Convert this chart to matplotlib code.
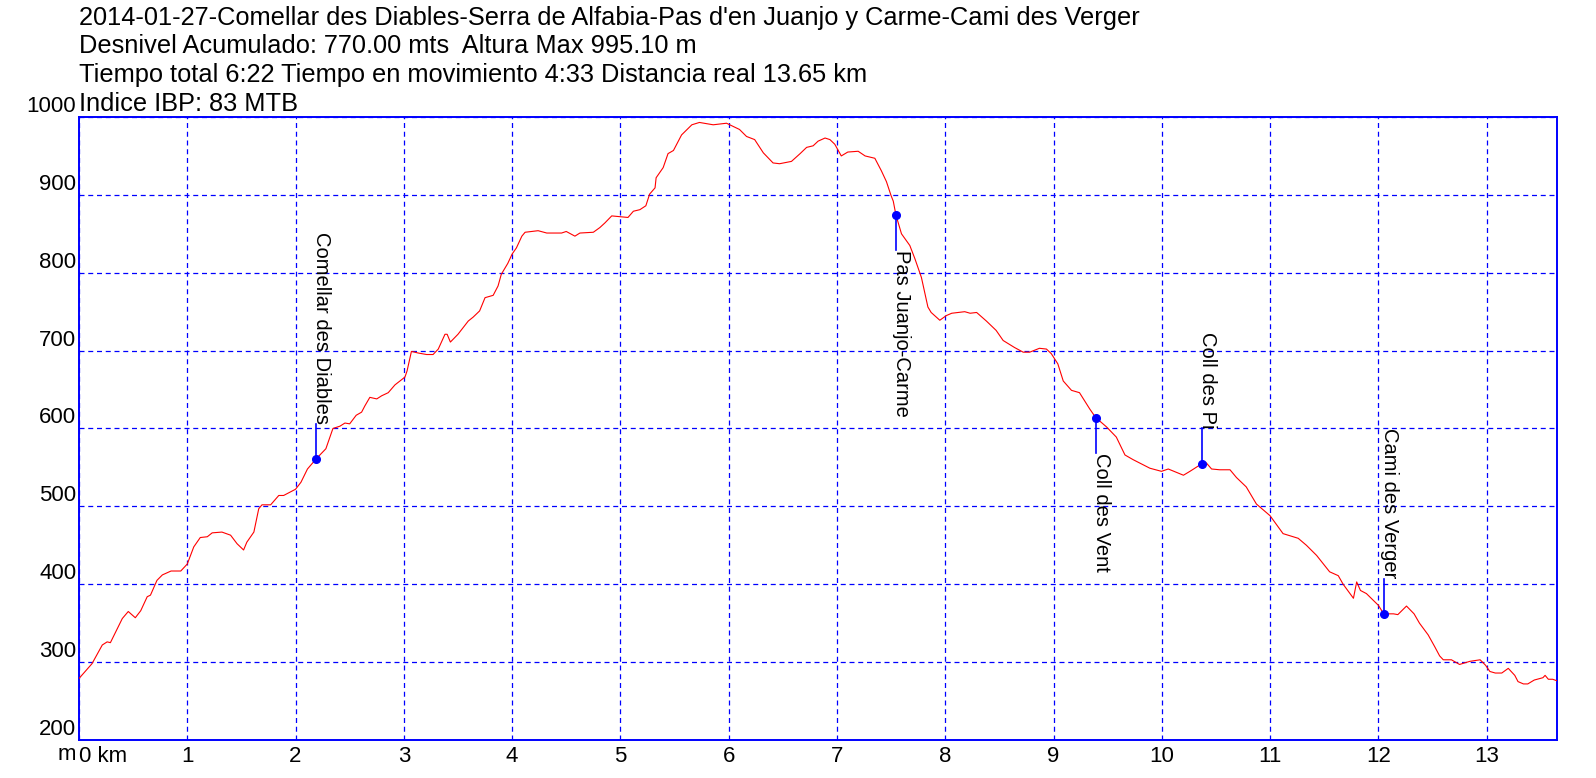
import matplotlib
matplotlib.use("Agg")
import matplotlib.pyplot as plt

plt.rcParams['font.family'] = ['Liberation Sans', 'DejaVu Sans']

# perfil: distancia (km) / altura (m)
dist_km = [0.0, 0.12, 0.215, 0.26, 0.29, 0.40, 0.455, 0.52, 0.57, 0.63, 0.66, 0.72, 0.77, 0.85, 0.94,
           1.0, 1.06, 1.12, 1.185, 1.23, 1.32, 1.40, 1.46, 1.52, 1.55, 1.615, 1.66, 1.69, 1.77, 1.845, 1.89,
           2.0, 2.05, 2.11, 2.19, 2.28, 2.345, 2.41, 2.456, 2.50, 2.56, 2.61, 2.64, 2.686, 2.75, 2.795, 2.856, 2.918,
           3.01, 3.03, 3.07, 3.13, 3.21, 3.27, 3.318, 3.38, 3.40, 3.43, 3.50, 3.55, 3.595, 3.64, 3.70, 3.75, 3.825,
           3.87, 3.90, 3.96, 4.00, 4.04, 4.09, 4.12, 4.24, 4.32, 4.457, 4.50, 4.58, 4.626, 4.75, 4.81, 4.857, 4.92,
           5.0, 5.07, 5.12, 5.18, 5.235, 5.27, 5.32, 5.33, 5.395, 5.44, 5.49, 5.565, 5.66, 5.73, 5.857, 5.98,
           6.10, 6.165, 6.24, 6.32, 6.41, 6.47, 6.58, 6.66, 6.72, 6.78, 6.826, 6.89, 6.935, 6.98,
           7.04, 7.10, 7.196, 7.26, 7.35, 7.41, 7.457, 7.50, 7.52, 7.545, 7.596, 7.673, 7.72, 7.78, 7.84, 7.87, 7.95,
           8.01, 8.06, 8.18, 8.23, 8.29, 8.38, 8.47, 8.535, 8.64, 8.72, 8.78, 8.87, 8.935, 8.98,
           9.04, 9.09, 9.166, 9.24, 9.335, 9.39, 9.49, 9.58, 9.66, 9.735, 9.89, 9.997,
           10.06, 10.20, 10.26, 10.35, 10.376, 10.41, 10.46, 10.535, 10.63, 10.69, 10.78, 10.874,
           11.0, 11.12, 11.26, 11.336, 11.43, 11.55, 11.63, 11.675, 11.77, 11.80, 11.835, 11.89,
           12.0, 12.05, 12.14, 12.18, 12.26, 12.33, 12.38, 12.46, 12.52, 12.566, 12.60, 12.675, 12.75, 12.845, 12.94, 12.99,
           13.03, 13.08, 13.14, 13.20, 13.26, 13.29, 13.34, 13.38, 13.44, 13.52, 13.54, 13.57, 13.61, 13.65]
alt_m = [279, 298, 322, 326, 325, 356, 365, 357, 366, 384, 386, 405, 412, 417, 417,
         426, 448, 460, 461, 466, 467, 463, 452, 444, 454, 467, 497, 502, 502, 514, 514,
         522, 531, 548, 561, 574, 600, 603, 607, 606, 617, 621, 629, 640, 638, 642, 646, 656,
         666, 674, 699, 697, 695, 695, 702, 721, 721, 711, 721, 730, 738, 743, 751, 768, 771,
         783, 798, 812, 824, 832, 847, 852, 854, 851, 851, 853, 847, 851, 852, 858, 864, 873,
         872, 871, 879, 881, 886, 901, 909, 922, 935, 953, 957, 977, 990, 993, 990, 992,
         984, 975, 971, 954, 941, 940, 943, 953, 961, 963, 969, 973, 971, 965,
         950, 955, 956, 950, 947, 931, 917, 899, 892, 874, 850, 835, 818, 794, 756, 749, 739,
         745, 748, 750, 748, 749, 738, 726, 713, 704, 698, 698, 703, 702, 696,
         683, 661, 649, 646, 625, 614, 602, 589, 566, 560, 549, 545,
         548, 540, 545, 553, 555, 556, 548, 547, 547, 537, 525, 503,
         488, 465, 459, 450, 437, 416, 411, 400, 382, 403, 392, 388,
         373, 362, 362, 361, 372, 362, 350, 335, 320, 308, 303, 303, 297, 301, 303, 296,
         288, 286, 286, 292, 283, 275, 272, 272, 277, 280, 283, 278, 278, 276]

# puntos de paso
wp_names = ['Comellar des Diables', 'Pas Juanjo-Carme', 'Coll des Vent', 'Coll des Pi', 'Cami des Verger']
wp_km = [2.19, 7.545, 9.39, 10.376, 12.05]
wp_alt = [561, 874, 614, 555, 362]
wp_side = [1, -1, -1, 1, 1]   # etiqueta arriba (1) o abajo (-1)

title_lines = ["2014-01-27-Comellar des Diables-Serra de Alfabia-Pas d'en Juanjo y Carme-Cami des Verger",
               "Desnivel Acumulado: 770.00 mts  Altura Max 995.10 m",
               "Tiempo total 6:22 Tiempo en movimiento 4:33 Distancia real 13.65 km",
               "Indice IBP: 83 MTB"]

W, H = 1596, 778
fig = plt.figure(figsize=(W / 100, H / 100), dpi=100)
ax = fig.add_axes([79 / W, 1 - 740 / H, (1557 - 79) / W, (740 - 117) / H])

ax.plot(dist_km, alt_m, color='red', lw=0.8, zorder=3)

# marcadores con etiqueta vertical
stem = 45
for name, x, y, s in zip(wp_names, wp_km, wp_alt, wp_side):
    y2 = y + s * stem
    ax.plot([x, x], [y, y2], color='blue', lw=1.2, zorder=4)
    ax.plot(x, y, 'o', color='blue', ms=5.5, zorder=5)
    ax.text(x, y2, name, rotation=-90, rotation_mode='anchor',
            ha='right' if s > 0 else 'left', va='baseline', fontsize=14.5, zorder=6)

ax.set_xlim(0, 13.65)
ax.set_ylim(200, 1000)

xt = list(range(0, 14))
ax.set_xticks(xt)
ax.set_xticklabels(['0 km'] + [str(v) for v in xt[1:]])
ax.get_xticklabels()[0].set_horizontalalignment('left')
yt = list(range(200, 1001, 100))
ax.set_yticks(yt)
ax.set_yticklabels([str(v) for v in yt])
for lbl in ax.get_yticklabels():
    lbl.set_verticalalignment('bottom')
ax.tick_params(axis='both', length=0, labelsize=16)
ax.tick_params(axis='y', pad=2)
ax.tick_params(axis='x', pad=4)

ax.grid(True, color='blue', lw=0.9, linestyle=(0, (4, 3)))
for sp in ax.spines.values():
    sp.set_color('blue')
    sp.set_linewidth(1.4)

fig.text(76 / W, 1 - 744 / H, 'm', ha='right', va='top', fontsize=16)

# cabecera
for i, t in enumerate(title_lines):
    fig.text(79 / W, 1 - (24.5 + 28.9 * i) / H, t, ha='left', va='baseline', fontsize=18.3)

fig.savefig('out.png', dpi=100)
